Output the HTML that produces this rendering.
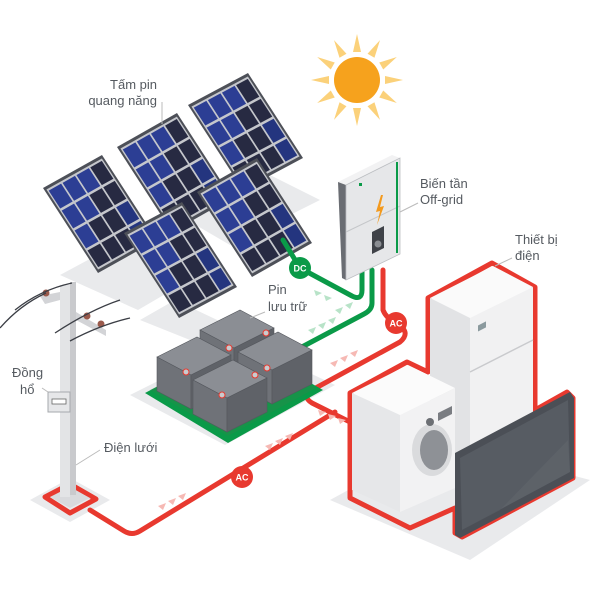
<!DOCTYPE html>
<html><head><meta charset="utf-8"><style>
html,body{margin:0;padding:0;background:#fff}
svg{display:block}
text{font-family:"Liberation Sans","DejaVu Sans",sans-serif;fill:#555a60;font-size:13px}
.b{font-weight:bold;fill:#fff;font-size:9px;text-anchor:middle}
</style></head><body>
<svg width="600" height="600" viewBox="0 0 600 600" xmlns="http://www.w3.org/2000/svg">
<defs>
<g id="panel">
  <rect x="0" y="0" width="100" height="100" fill="#4d5058"/>
  <rect x="3" y="3" width="94" height="94" fill="#c5c7cc"/>
  <g fill="#272a42">
    <rect x="5" y="5" width="21" height="21" fill="#2c3e94"/><rect x="28.5" y="5" width="21" height="21" fill="#2c3e94"/><rect x="52" y="5" width="21" height="21" fill="#2c3e94"/><rect x="75.5" y="5" width="19.5" height="21"/>
    <rect x="5" y="28.5" width="21" height="21" fill="#2c3e94"/><rect x="28.5" y="28.5" width="21" height="21" fill="#2c3e94"/><rect x="52" y="28.5" width="21" height="21"/><rect x="75.5" y="28.5" width="19.5" height="21"/>
    <rect x="5" y="52" width="21" height="21" fill="#2c3e94"/><rect x="28.5" y="52" width="21" height="21"/><rect x="52" y="52" width="21" height="21"/><rect x="75.5" y="52" width="19.5" height="21" fill="#24357f"/>
    <rect x="5" y="75.5" width="21" height="19.5"/><rect x="28.5" y="75.5" width="21" height="19.5"/><rect x="52" y="75.5" width="21" height="19.5"/><rect x="75.5" y="75.5" width="19.5" height="19.5" fill="#24357f"/>
  </g>
</g>
</defs>

<!-- sun -->
<g transform="translate(357,80)">
  <g fill="#fbd17a">
    <polygon points="-4,-28 0,-46 4,-28"/><polygon points="-4,-28 0,-46 4,-28" transform="rotate(30)"/><polygon points="-4,-28 0,-46 4,-28" transform="rotate(60)"/><polygon points="-4,-28 0,-46 4,-28" transform="rotate(90)"/><polygon points="-4,-28 0,-46 4,-28" transform="rotate(120)"/><polygon points="-4,-28 0,-46 4,-28" transform="rotate(150)"/><polygon points="-4,-28 0,-46 4,-28" transform="rotate(180)"/><polygon points="-4,-28 0,-46 4,-28" transform="rotate(210)"/><polygon points="-4,-28 0,-46 4,-28" transform="rotate(240)"/><polygon points="-4,-28 0,-46 4,-28" transform="rotate(270)"/><polygon points="-4,-28 0,-46 4,-28" transform="rotate(300)"/><polygon points="-4,-28 0,-46 4,-28" transform="rotate(330)"/>
  </g>
  <circle r="23" fill="#f6a21d"/>
</g>

<!-- ground shadows -->
<g fill="#e9eaec">
  <polygon points="60,275 140,232 215,265 138,310"/>
  <polygon points="170,210 260,170 320,200 230,245"/>
  <polygon points="140,320 175,300 270,345 240,360"/>
  <polygon points="130,395 240,340 335,385 225,445"/>
  <polygon points="330,500 440,440 590,480 470,560"/>
  <polygon points="30,500 70,478 110,500 70,522"/>
</g>

<!-- panels -->
<use href="#panel" transform="matrix(0.60,-0.32,0.55,0.85,188,105)"/>
<use href="#panel" transform="matrix(0.60,-0.34,0.55,0.85,117,147)"/>
<use href="#panel" transform="matrix(0.59,-0.33,0.55,0.85,43,188)"/>
<use href="#panel" transform="matrix(0.60,-0.34,0.55,0.85,197,192)"/>
<use href="#panel" transform="matrix(0.58,-0.31,0.55,0.85,124,233)"/>

<!-- labels -->
<text x="157" y="89" text-anchor="end">Tấm pin</text>
<text x="157" y="105" text-anchor="end">quang năng</text>
<line x1="162" y1="102" x2="162" y2="124" stroke="#bbb" stroke-width="1"/>

<!-- pole -->
<polygon points="45,497 70,484 96,499 70,513" fill="none" stroke="#e8392f" stroke-width="5" stroke-linejoin="round"/>
<polygon points="50,497 70,487 90,498 70,508" fill="#d9dadd"/>
<rect x="60" y="285" width="10" height="212" fill="#e3e4e6"/>
<rect x="70" y="282" width="6" height="213" fill="#c9cacd"/>
<polygon points="40,296 60,292 60,300 45,304" fill="#d3d4d7"/>
<polygon points="76,312 106,330 106,336 76,320" fill="#d3d4d7"/>
<g fill="#9a5a4c"><circle cx="46" cy="293" r="3.5"/><circle cx="87" cy="316" r="3.5"/><circle cx="101" cy="324" r="3.5"/></g>
<g stroke="#3b3e45" stroke-width="1.3" fill="none">
  <path d="M15,310 Q40,290 72,283"/><path d="M55,333 Q90,310 120,300"/><path d="M70,341 Q100,325 130,318"/><path d="M0,328 Q20,305 46,293"/>
</g>
<rect x="48" y="392" width="22" height="20" fill="#e6e7e9" stroke="#a6a8ad"/>
<rect x="52" y="399" width="14" height="5" fill="#fff" stroke="#666" stroke-width="0.8"/>
<text x="12" y="377">Đồng</text><text x="20" y="394">hổ</text>
<line x1="42" y1="388" x2="48" y2="392" stroke="#bbb"/>
<text x="104" y="452">Điện lưới</text>
<line x1="100" y1="450" x2="76" y2="465" stroke="#bbb"/>

<!-- cables -->
<g fill="none" stroke-width="5" stroke-linejoin="round" stroke-linecap="round">
  <path d="M283,240 L300,268 L352,296 Q362,301 362,290 L362,270" stroke="#0a9a48"/>
  <path d="M372,270 L372,303 Q372,310 364,314 L300,348" stroke="#0a9a48"/>
  <path d="M383,270 L383,310 Q386,318 396,323 Q412,332 400,342 L312,390 Q302,397 312,403 L352,423" stroke="#e8392f"/>
  <path d="M335,412 L140,531 Q132,536 124,531 L90,510" stroke="#e8392f"/>
</g>

<!-- flow chevrons -->
<g fill="#b8e3c8">
  <polygon points="318,325 326,322 323,329"/><polygon points="328,320 336,317 333,324"/><polygon points="308,330 316,327 313,334"/>
  <polygon points="335,310 343,307 340,314"/><polygon points="345,305 353,302 350,309"/>
  <polygon points="314,290 322,293 316,296"/><polygon points="324,295 332,298 326,301"/>
</g>
<g fill="#f6b9b4">
  <polygon points="340,358 348,355 345,362"/><polygon points="350,353 358,350 355,357"/><polygon points="330,363 338,360 335,367"/>
  <polygon points="318,410 326,412 320,416"/><polygon points="328,414 336,416 330,420"/><polygon points="338,418 346,420 340,424"/>
  <polygon points="265,446 273,443 270,450"/><polygon points="275,441 283,438 280,445"/><polygon points="285,436 293,433 290,440"/>
  <polygon points="158,506 166,503 163,510"/><polygon points="168,501 176,498 173,505"/><polygon points="178,496 186,493 183,500"/>
</g>

<!-- batteries -->
<polygon points="145,393 240,343 323,390 228,443" fill="#0a9a48"/>
<polygon points="150,390 240,345 316,388 228,436" fill="#2a8a4a" opacity="0.4"/>
<g id="bat">
</g>
<g stroke="#55585e" stroke-width="0.6">
  <!-- back/top -->
  <polygon points="200,330 240,310 274,328 234,348" fill="#8b8e94"/>
  <polygon points="200,330 234,348 234,380 200,362" fill="#6f7278"/>
  <polygon points="234,348 274,328 274,360 234,380" fill="#5f6268"/>
  <!-- left -->
  <polygon points="157,357 197,337 231,355 191,375" fill="#8b8e94"/>
  <polygon points="157,357 191,375 191,409 157,391" fill="#6f7278"/>
  <polygon points="191,375 231,355 231,389 191,409" fill="#5f6268"/>
  <!-- right -->
  <polygon points="238,352 278,332 312,350 272,370" fill="#8b8e94"/>
  <polygon points="238,352 272,370 272,404 238,386" fill="#6f7278"/>
  <polygon points="272,370 312,350 312,384 272,404" fill="#5f6268"/>
  <!-- front -->
  <polygon points="193,380 233,360 267,378 227,398" fill="#8b8e94"/>
  <polygon points="193,380 227,398 227,432 193,414" fill="#6f7278"/>
  <polygon points="227,398 267,378 267,412 227,432" fill="#5f6268"/>
</g>
<g fill="#c9cbce" stroke="#e8392f" stroke-width="1">
  <circle cx="229" cy="348" r="3"/><circle cx="266" cy="333" r="3"/><circle cx="186" cy="372" r="3"/><circle cx="222" cy="395" r="3"/><circle cx="267" cy="368" r="3"/><circle cx="255" cy="375" r="3"/>
</g>
<text x="268" y="294">Pin</text><text x="268" y="311">lưu trữ</text>
<line x1="265" y1="312" x2="250" y2="318" stroke="#bbb"/>

<!-- inverter -->
<polygon points="338,182 392,155 400,158 346,185" fill="#f2f2f3"/>
<polygon points="338,182 346,185 346,280 342,278" fill="#6a6d73"/>
<polygon points="346,185 400,158 400,254 346,280" fill="#e6e7e9" stroke="#bcbec2" stroke-width="0.8"/>
<line x1="346" y1="232" x2="400" y2="206" stroke="#c4c6c9"/>
<line x1="397" y1="162" x2="397" y2="253" stroke="#0a9a48" stroke-width="2"/>
<polygon points="381,195 376,212 380,211 377,225 384,206 380,207 383,195" fill="#f39a1e"/>
<polygon points="372,232 384,226 384,248 372,254" fill="#3f4248"/>
<circle cx="378" cy="244" r="3.5" fill="#8a8d92"/>
<rect x="359" y="183" width="3" height="3" fill="#0a9a48"/>
<text x="420" y="188">Biến tần</text><text x="420" y="204">Off-grid</text>
<line x1="418" y1="203" x2="400" y2="212" stroke="#bbb"/>

<!-- badges -->
<circle cx="300" cy="268" r="11" fill="#0a9a48"/><text x="300" y="271.5" class="b">DC</text>
<circle cx="396" cy="323" r="11" fill="#e8392f"/><text x="396" y="326.5" class="b">AC</text>
<circle cx="242" cy="477" r="11" fill="#e8392f"/><text x="242" y="480.5" class="b">AC</text>

<!-- appliances outline -->
<polygon points="350,393 407,362 428,372 428,298 492,263 535,287 535,410 567,392 573,398 573,478 462,537 455,533 455,508 410,528 350,498" fill="none" stroke="#e8392f" stroke-width="5" stroke-linejoin="round"/>
<!-- fridge -->
<polygon points="430,298 493,266 533,287 470,318" fill="#fafafa"/>
<polygon points="430,298 470,318 470,470 430,450" fill="#e2e3e5"/>
<polygon points="470,318 533,287 533,412 470,445" fill="#f1f1f2"/>
<line x1="470" y1="372" x2="533" y2="340" stroke="#c9cacd" stroke-width="1.5"/>
<rect x="478" y="325" width="8" height="6" fill="#8b9a9e" transform="skewY(-27) translate(0,244)"/>
<!-- washing machine -->
<polygon points="352,393 408,365 455,388 400,415" fill="#fbfbfb"/>
<polygon points="352,393 400,415 400,512 352,490" fill="#e6e7e9"/>
<polygon points="400,415 455,388 455,488 400,512" fill="#f2f2f3"/>
<ellipse cx="432" cy="450" rx="20" ry="26" fill="#dadbdd"/>
<ellipse cx="434" cy="450" rx="14" ry="20" fill="#8e9196"/>
<circle cx="430" cy="422" r="4" fill="#6c6f74"/>
<polygon points="438,413 452,406 452,414 438,421" fill="#7a7d82"/>
<!-- TV -->
<polygon points="455,453 570,392 574,398 574,478 460,538 455,535" fill="#4b4f56"/>
<polygon points="460,458 568,400 570,472 462,530" fill="#575c63"/>
<polygon points="500,510 568,440 570,472 462,530" fill="#60656c" opacity="0.6"/>

<text x="515" y="244">Thiết bị</text><text x="515" y="260">điện</text>
<line x1="512" y1="258" x2="495" y2="266" stroke="#bbb"/>
</svg>
</body></html>
